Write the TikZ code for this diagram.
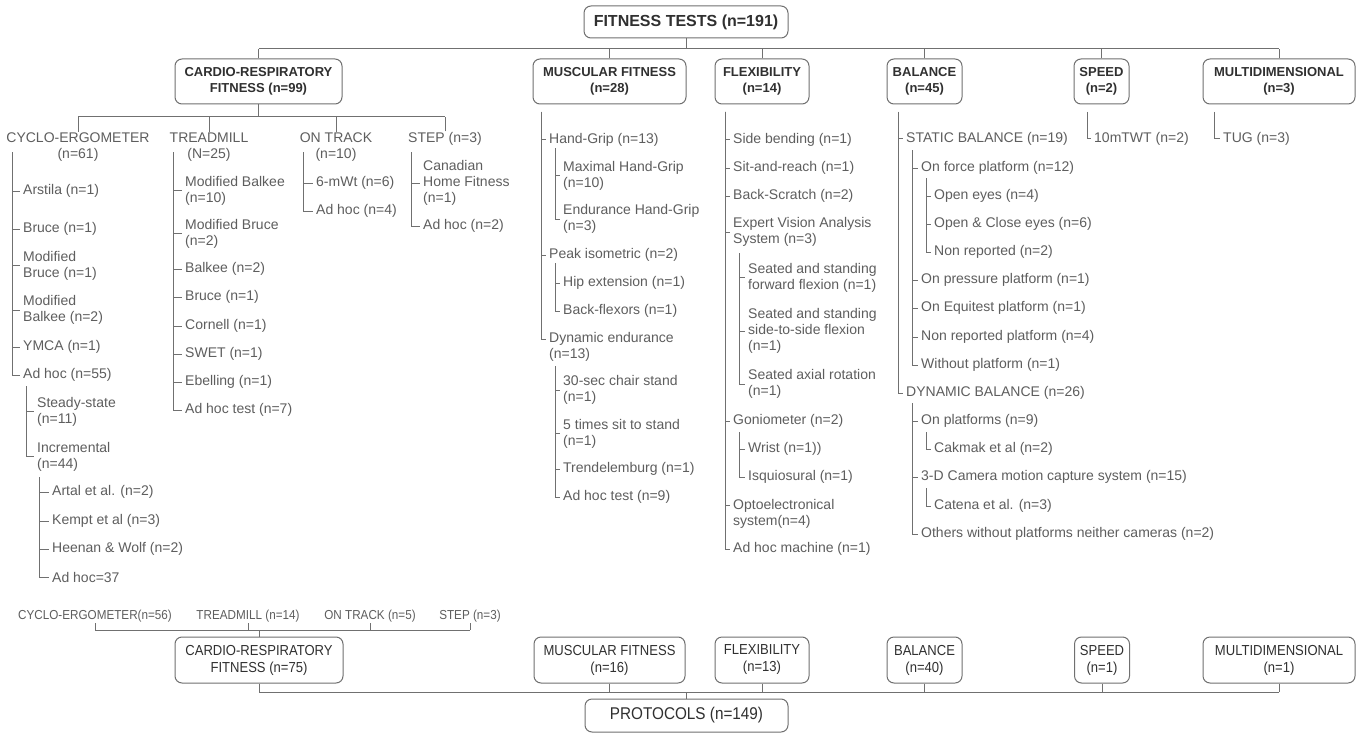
\documentclass[tikz,border=0pt]{standalone}
\usepackage{fontspec}
\setmainfont{Liberation Sans}
\newfontfamily\condfont[FakeStretch=0.9]{Liberation Sans}
\usetikzlibrary{calc}
\definecolor{linec}{HTML}{707070}
\definecolor{txtc}{HTML}{5E5E5E}
\definecolor{headc}{HTML}{303030}
\newcommand\itemfont{\fontsize{14}{15.8}\selectfont}
\newcommand\headfont{\bfseries\fontsize{13}{16.5}\selectfont}
\newcommand\bigheadfont{\bfseries\fontsize{16}{18}\selectfont}
\newcommand\condhead{\condfont\fontsize{14.5}{17}\selectfont}
\newcommand\condlab{\condfont\fontsize{13}{15}\selectfont}
\newcommand\protfont{\condfont\fontsize{17}{19}\selectfont}
\tikzset{
  ln/.style={draw=linec, line width=1pt},
  hbox/.style={draw=linec, line width=1pt, rounded corners=7pt, font=\headfont, text=headc, align=center, inner sep=0pt, minimum height=45pt},
  bbox/.style={draw=linec, line width=1pt, rounded corners=7pt, font=\condhead, text=headc, align=center, inner sep=0pt, minimum height=46pt},
  item/.style={anchor=west, inner xsep=3pt, inner ysep=1pt, align=left, font=\itemfont, text=txtc},
  sub/.style={inner xsep=2pt, inner ysep=1pt, align=center, font=\itemfont, text=txtc},
  blab/.style={inner xsep=2pt, inner ysep=1pt, font=\condlab, text=txtc}
}
\begin{document}
\begin{tikzpicture}[x=1pt,y=-1pt]
\useasboundingbox (0,0) rectangle (1362,733);
\fill[white] (0,0) rectangle (1362,733);
% ---------- top level ----------
\node[hbox, font=\bigheadfont, minimum width=204pt, minimum height=32pt] (ft) at (686,22) {FITNESS TESTS (n=191)};
\node[hbox, minimum width=167pt] (cardio) at (258.5,81.5) {CARDIO-RESPIRATORY\\FITNESS (n=99)};
\node[hbox, minimum width=153pt] (musc) at (609.5,81.5) {MUSCULAR FITNESS\\(n=28)};
\node[hbox, minimum width=94pt] (flex) at (762,81.5) {FLEXIBILITY\\(n=14)};
\node[hbox, minimum width=75pt] (bal) at (924.5,81.5) {BALANCE\\(n=45)};
\node[hbox, minimum width=55pt] (speed) at (1101.5,81.5) {SPEED\\(n=2)};
\node[hbox, minimum width=152pt] (multi) at (1279,81.5) {MULTIDIMENSIONAL\\(n=3)};
\coordinate (topbus) at (0,49);
\draw[ln] (ft.south) -- (ft.south |- topbus);
\draw[ln] (cardio.north |- topbus) -- (multi.north |- topbus);
\foreach \n in {cardio,musc,flex,bal,speed,multi} \draw[ln] (\n.north) -- (\n.north |- topbus);
% ---------- cardio sub headers ----------
\node[sub] (cyc) at (78,147) {CYCLO-ERGOMETER\\(n=61)};
\node[sub] (tread) at (209,147) {TREADMILL\\(N=25)};
\node[sub] (track) at (336,147) {ON TRACK\\(n=10)};
\node[sub] (step) at (445,139) {STEP (n=3)};
\coordinate (cbus) at (0,117);
\draw[ln] (cardio.south) -- (cardio.south |- cbus);
\draw[ln] (cyc.north |- cbus) -- (step.north |- cbus);
\foreach \n in {cyc,tread,track,step} \draw[ln] (\n.north) -- (\n.north |- cbus);
% cyclo
\coordinate (cyT) at (12,152);
\node[item] (c1) at (20,191) {Arstila (n=1)};
\node[item] (c2) at (20,229) {Bruce (n=1)};
\node[item] (c3) at (20,265.5) {Modified\\Bruce (n=1)};
\node[item] (c4) at (20,310) {Modified\\Balkee (n=2)};
\node[item] (c5) at (20,347) {YMCA (n=1)};
\node[item] (c6) at (20,375) {Ad hoc (n=55)};
\foreach \n in {c1,c2,c3,c4,c5,c6} \draw[ln] (cyT) |- (\n.west);
\coordinate (ahT) at (26,386);
\node[item] (c61) at (34,411.5) {Steady-state\\(n=11)};
\node[item] (c62) at (34,456.5) {Incremental\\(n=44)};
\foreach \n in {c61,c62} \draw[ln] (ahT) |- (\n.west);
\coordinate (inT) at (39,477);
\node[item] (c621) at (49,492) {Artal et al. (n=2)};
\node[item] (c622) at (49,521) {Kempt et al (n=3)};
\node[item] (c623) at (49,549) {Heenan \& Wolf (n=2)};
\node[item] (c624) at (49,577) {Ad hoc=37};
\foreach \n in {c621,c622,c623,c624} \draw[ln] (inT) |- (\n.west);
% treadmill
\coordinate (trT) at (173,152);
\node[item] (t1) at (182,190.5) {Modified Balkee\\(n=10)};
\node[item] (t2) at (182,233.5) {Modified Bruce\\(n=2)};
\node[item] (t3) at (182,269) {Balkee (n=2)};
\node[item] (t4) at (182,297) {Bruce (n=1)};
\node[item] (t5) at (182,326) {Cornell (n=1)};
\node[item] (t6) at (182,354) {SWET (n=1)};
\node[item] (t7) at (182,382) {Ebelling (n=1)};
\node[item] (t8) at (182,410) {Ad hoc test (n=7)};
\foreach \n in {t1,t2,t3,t4,t5,t6,t7,t8} \draw[ln] (trT) |- (\n.west);
% on track
\coordinate (otT) at (303,152);
\node[item] (o1) at (313,183) {6-mWt (n=6)};
\node[item] (o2) at (313,211) {Ad hoc (n=4)};
\foreach \n in {o1,o2} \draw[ln] (otT) |- (\n.west);
% step
\coordinate (stT) at (411,152);
\node[item] (s1) at (420,183) {Canadian\\Home Fitness\\(n=1)};
\node[item] (s2) at (420,226) {Ad hoc (n=2)};
\foreach \n in {s1,s2} \draw[ln] (stT) |- (\n.west);
% ---------- muscular ----------
\coordinate (muT) at (541,112);
\node[item] (m1) at (546,140) {Hand-Grip (n=13)};
\node[item] (m2) at (546,255) {Peak isometric (n=2)};
\node[item] (m3) at (546,347) {Dynamic endurance\\(n=13)};
\foreach \n in {m1,m2} \draw[ln] (muT) |- (\n.west);
\draw[ln] (muT) |- ($(m3.west)+(0,-8)$);
\coordinate (hgT) at (555,148);
\node[item] (m11) at (560,175.5) {Maximal Hand-Grip\\(n=10)};
\node[item] (m12) at (560,219) {Endurance Hand-Grip\\(n=3)};
\foreach \n in {m11,m12} \draw[ln] (hgT) |- (\n.west);
\coordinate (pkT) at (555,263);
\node[item] (m21) at (560,283) {Hip extension (n=1)};
\node[item] (m22) at (560,311) {Back-flexors (n=1)};
\foreach \n in {m21,m22} \draw[ln] (pkT) |- (\n.west);
\coordinate (deT) at (555,366);
\node[item] (m31) at (560,390) {30-sec chair stand\\(n=1)};
\node[item] (m32) at (560,433.5) {5 times sit to stand\\(n=1)};
\node[item] (m33) at (560,469) {Trendelemburg (n=1)};
\node[item] (m34) at (560,497) {Ad hoc test (n=9)};
\foreach \n in {m31,m32,m33,m34} \draw[ln] (deT) |- (\n.west);
% ---------- flexibility ----------
\coordinate (flT) at (725,112);
\node[item] (f1) at (730,140) {Side bending (n=1)};
\node[item] (f2) at (730,168) {Sit-and-reach (n=1)};
\node[item] (f3) at (730,196) {Back-Scratch (n=2)};
\node[item] (f4) at (730,232) {Expert Vision Analysis\\System (n=3)};
\node[item] (f5) at (730,421) {Goniometer (n=2)};
\node[item] (f6) at (730,513.5) {Optoelectronical\\system(n=4)};
\node[item] (f7) at (730,549) {Ad hoc machine (n=1)};
\foreach \n in {f1,f2,f3,f4,f5,f7} \draw[ln] (flT) |- (\n.west);
\draw[ln] (flT) |- ($(f6.west)+(0,-8)$);
\coordinate (evT) at (739,253);
\node[item] (f41) at (745,277.5) {Seated and standing\\forward flexion (n=1)};
\node[item] (f42) at (745,331) {Seated and standing\\side-to-side flexion\\(n=1)};
\node[item] (f43) at (745,384) {Seated axial rotation\\(n=1)};
\foreach \n in {f41,f42,f43} \draw[ln] (evT) |- (\n.west);
\coordinate (goT) at (739,432);
\node[item] (f51) at (745,449) {Wrist (n=1))};
\node[item] (f52) at (745,477) {Isquiosural (n=1)};
\foreach \n in {f51,f52} \draw[ln] (goT) |- (\n.west);
% ---------- balance ----------
\coordinate (baT) at (898,112);
\node[item] (b1) at (903,139) {STATIC BALANCE (n=19)};
\node[item] (b2) at (903,393) {DYNAMIC BALANCE (n=26)};
\foreach \n in {b1,b2} \draw[ln] (baT) |- (\n.west);
\coordinate (sbT) at (912,150);
\node[item] (b11) at (918,168) {On force platform (n=12)};
\node[item] (b12) at (918,280) {On pressure platform (n=1)};
\node[item] (b13) at (918,308) {On Equitest platform (n=1)};
\node[item] (b14) at (918,337) {Non reported platform (n=4)};
\node[item] (b15) at (918,365) {Without platform (n=1)};
\foreach \n in {b11,b12,b13,b14,b15} \draw[ln] (sbT) |- (\n.west);
\coordinate (fpT) at (926,178);
\node[item] (b111) at (931,196) {Open eyes (n=4)};
\node[item] (b112) at (931,224) {Open \& Close eyes (n=6)};
\node[item] (b113) at (931,252) {Non reported (n=2)};
\foreach \n in {b111,b112,b113} \draw[ln] (fpT) |- (\n.west);
\coordinate (dbT) at (912,403);
\node[item] (b21) at (918,421) {On platforms (n=9)};
\node[item] (b22) at (918,477) {3-D Camera motion capture system (n=15)};
\node[item] (b23) at (918,534) {Others without platforms neither cameras (n=2)};
\foreach \n in {b21,b22,b23} \draw[ln] (dbT) |- (\n.west);
\coordinate (opT) at (926,432);
\node[item] (b211) at (931,449) {Cakmak et al (n=2)};
\draw[ln] (opT) |- (b211.west);
\coordinate (cmT) at (926,488);
\node[item] (b221) at (931,506) {Catena et al. (n=3)};
\draw[ln] (cmT) |- (b221.west);
% ---------- speed / multidimensional ----------
\coordinate (spT) at (1087,112);
\node[item] (sp1) at (1091,139) {10mTWT (n=2)};
\draw[ln] (spT) |- (sp1.west);
\coordinate (mdT) at (1214,112);
\node[item] (md1) at (1220,139) {TUG (n=3)};
\draw[ln] (mdT) |- (md1.west);
% ---------- protocols (bottom) ----------
\node[blab] (l1) at (95,616) {CYCLO-ERGOMETER(n=56)};
\node[blab] (l2) at (248,616) {TREADMILL (n=14)};
\node[blab] (l3) at (370,616) {ON TRACK (n=5)};
\node[blab] (l4) at (470,616) {STEP (n=3)};
\node[bbox, minimum width=168pt] (cardio2) at (259,660) {CARDIO-RESPIRATORY\\FITNESS (n=75)};
\node[bbox, minimum width=151pt] (musc2) at (609.5,660) {MUSCULAR FITNESS\\(n=16)};
\node[bbox, minimum width=94pt] (flex2) at (762,660) {FLEXIBILITY\\(n=13)};
\node[bbox, minimum width=75pt] (bal2) at (924.5,660) {BALANCE\\(n=40)};
\node[bbox, minimum width=55pt] (speed2) at (1102,660) {SPEED\\(n=1)};
\node[bbox, minimum width=152pt] (multi2) at (1279,660) {MULTIDIMENSIONAL\\(n=1)};
\node[bbox, font=\protfont, minimum width=203pt, minimum height=33pt] (prot) at (686.5,715.5) {PROTOCOLS (n=149)};
\coordinate (bbusA) at (0,630);
\coordinate (bbusB) at (0,692);
\draw[ln] (l1.south |- bbusA) -- (l4.south |- bbusA);
\foreach \n in {l1,l2,l3,l4} \draw[ln] (\n.south) -- (\n.south |- bbusA);
\draw[ln] (cardio2.north) -- (cardio2.north |- bbusA);
\draw[ln] (cardio2.south |- bbusB) -- (multi2.south |- bbusB);
\foreach \n in {cardio2,musc2,flex2,bal2,speed2,multi2} \draw[ln] (\n.south) -- (\n.south |- bbusB);
\draw[ln] (prot.north) -- (prot.north |- bbusB);
\end{tikzpicture}
\end{document}
